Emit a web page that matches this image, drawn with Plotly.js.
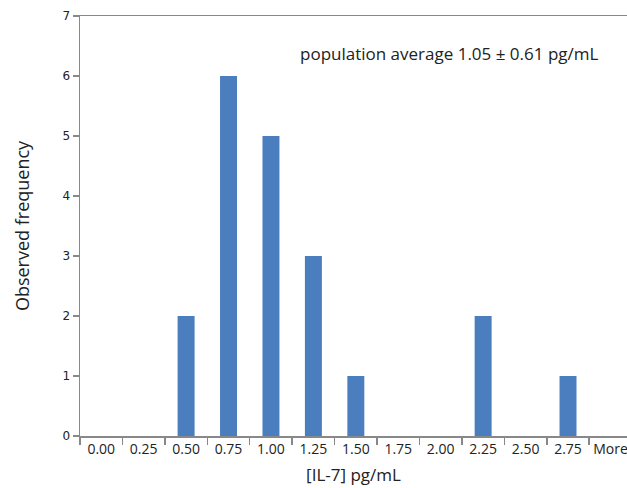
<!DOCTYPE html>
<html>
<head>
<meta charset="utf-8">
<script src="https://cdn.plot.ly/plotly-3.0.1.min.js"></script>
<style>html,body{margin:0;padding:0;background:#fff;}#chart{width:627px;height:488px;}</style>
</head>
<body>
<div id="chart"></div>
<script>
const binLabels = ["0.00","0.25","0.50","0.75","1.00","1.25","1.50","1.75","2.00","2.25","2.50","2.75","More"];
const frequencies = [0,0,2,6,5,3,1,0,0,2,0,1,0];
const annotationText = "population average 1.05 \u00b1 0.61 pg/mL";

const trace = {
  type: "bar",
  x: binLabels,
  y: frequencies,
  marker: {color: "#4a7ebf"},
  hoverinfo: "skip"
};

const layout = {
  width: 627, height: 488,
  margin: {l: 80, r: 0, t: 16, b: 52},
  paper_bgcolor: "#fff", plot_bgcolor: "#fff",
  bargap: 0.6,
  showlegend: false,
  font: {family: "Open Sans, sans-serif", color: "#222"},
  xaxis: {
    type: "category",
    range: [-0.5, 12.39],
    tickson: "boundaries",
    ticks: "outside", ticklen: 7, tickcolor: "#888", tickwidth: 1.5,
    showline: true, linecolor: "#888", linewidth: 1.5, mirror: true,
    showgrid: false, zeroline: false,
    tickfont: {size: 14, color: "#222"},
    title: {text: "[IL-7] pg/mL", font: {size: 17, color: "#222"}, standoff: 12}
  },
  yaxis: {
    range: [0, 7],
    dtick: 1,
    ticks: "outside", ticklen: 6, tickcolor: "#888", tickwidth: 1.5,
    showline: true, linecolor: "#888", linewidth: 1.5,
    showgrid: false, zeroline: false,
    tickfont: {size: 12, family: "DejaVu Sans, sans-serif", color: "#222"},
    title: {text: "Observed frequency", font: {size: 18, color: "#222"}, standoff: 28}
  },
  annotations: [{
    text: annotationText,
    xref: "paper", yref: "y",
    x: 0.675, y: 6.37,
    xanchor: "center", yanchor: "middle",
    showarrow: false,
    font: {size: 17, color: "#222"}
  }]
};

Plotly.newPlot("chart", [trace], layout, {displayModeBar: false, staticPlot: true});
</script>
</body>
</html>
